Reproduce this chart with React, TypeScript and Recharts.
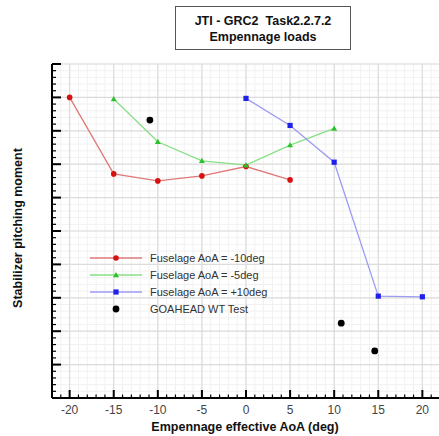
import React from "react";
import {
  CartesianGrid,
  ComposedChart,
  Line,
  ReferenceLine,
  Scatter,
  XAxis,
  YAxis,
} from "recharts";

// Empennage effective AoA (deg) vs stabilizer pitching moment (no scale given on the y axis)
const aoaMinus10 = [
  { x: -20, y: 9.0 },
  { x: -15, y: 6.71 },
  { x: -10, y: 6.5 },
  { x: -5, y: 6.65 },
  { x: 0, y: 6.93 },
  { x: 5, y: 6.53 },
];

const aoaMinus5 = [
  { x: -15, y: 8.95 },
  { x: -10, y: 7.67 },
  { x: -5, y: 7.1 },
  { x: 0, y: 6.97 },
  { x: 5, y: 7.57 },
  { x: 10, y: 8.07 },
];

const aoaPlus10 = [
  { x: 0, y: 8.97 },
  { x: 5, y: 8.16 },
  { x: 10, y: 7.06 },
  { x: 15, y: 3.05 },
  { x: 20, y: 3.03 },
];

const windTunnel = [
  { x: -10.9, y: 8.32 },
  { x: 10.8, y: 2.24 },
  { x: 14.6, y: 1.41 },
];

const xMajorTicks = [-20, -15, -10, -5, 0, 5, 10, 15, 20];
const yMajorTicks = [0, 1, 2, 3, 4, 5, 6, 7, 8, 9, 10];

const xAllTicks: number[] = [];
for (let i = -22; i <= 22; i++) xAllTicks.push(i);
const yAllTicks: number[] = [];
for (let i = 0; i <= 50; i++) yAllTicks.push(i / 5);

const FONT = '"Liberation Sans", Arial, Helvetica, sans-serif';

const legendItems = [
  { label: "Fuselage AoA = -10deg", line: "#e07a7a", marker: "circle", fill: "#d81010" },
  { label: "Fuselage AoA = -5deg", line: "#86e086", marker: "triangle", fill: "#2cc02c" },
  { label: "Fuselage AoA = +10deg", line: "#9c9cf2", marker: "square", fill: "#2020e8" },
  { label: "GOAHEAD WT Test", line: null, marker: "dot", fill: "#000000" },
];

function Marker({ kind, cx, cy, fill }: { kind: string; cx: number; cy: number; fill: string }) {
  if (kind === "triangle") {
    return <polygon points={`${cx},${cy - 3} ${cx - 3},${cy + 2.2} ${cx + 3},${cy + 2.2}`} fill={fill} />;
  }
  if (kind === "square") {
    return <rect x={cx - 2.6} y={cy - 2.6} width={5.2} height={5.2} fill={fill} />;
  }
  if (kind === "dot") {
    return <circle cx={cx} cy={cy} r={3.4} fill={fill} />;
  }
  return <circle cx={cx} cy={cy} r={2.8} fill={fill} />;
}

const makeDot = (kind: string, fill: string) => (props: any) => (
  <Marker key={`${kind}-${props.index}`} kind={kind} cx={props.cx} cy={props.cy} fill={fill} />
);

const XTick = (props: any) => {
  const { x, y, payload } = props;
  const v = payload.value;
  const major = v % 5 === 0;
  return (
    <g>
      <line x1={x} x2={x} y1={y} y2={y - (major ? 8 : 3.5)} stroke="#000" strokeWidth={major ? 2 : 1.2} />
      {major && v >= -20 && v <= 20 && (
        <text x={x} y={y + 16} textAnchor="middle" fontSize={12} fill="#444" fontFamily={FONT}>
          {v}
        </text>
      )}
    </g>
  );
};

const YTick = (props: any) => {
  const { x, y, payload } = props;
  const major = Math.abs(payload.value - Math.round(payload.value)) < 1e-6;
  return (
    <line x1={x} x2={x + (major ? 9 : 4)} y1={y} y2={y} stroke="#000" strokeWidth={major ? 2 : 1.2} />
  );
};

function LegendBox() {
  return (
    <svg width={220} height={76} style={{ position: "absolute", left: 88, top: 249 }}>
      {legendItems.map((item, i) => {
        const cy = 9 + i * 17;
        return (
          <g key={item.label}>
            {item.line && <line x1={2} x2={54} y1={cy} y2={cy} stroke={item.line} strokeWidth={1.3} />}
            <Marker kind={item.marker} cx={28} cy={cy} fill={item.fill} />
            <text x={62} y={cy + 4} fontSize={11} fill="#333" fontFamily={FONT}>
              {item.label}
            </text>
          </g>
        );
      })}
    </svg>
  );
}

export default function App() {
  return (
    <div
      style={{
        position: "absolute",
        left: 0,
        top: 0,
        width: 439,
        height: 436,
        overflow: "hidden",
        background: "#fff",
        fontFamily: FONT,
      }}
    >
      <div
        style={{
          position: "absolute",
          left: 175,
          top: 6,
          width: 176,
          height: 44,
          border: "1px solid #555",
          textAlign: "center",
          fontWeight: "bold",
          fontSize: 12.5,
          lineHeight: "16px",
          paddingTop: 6,
          boxSizing: "border-box",
          color: "#111",
          zIndex: 2,
        }}
      >
        JTI - GRC2&nbsp;&nbsp;Task2.2.7.2
        <br />
        Empennage loads
      </div>
      <ComposedChart width={441} height={436} margin={{ top: 64, right: 1, bottom: 0, left: 0 }}>
        <CartesianGrid stroke="#f1f1f1" strokeWidth={1} />
        {xMajorTicks.map((v) => (
          <ReferenceLine key={`gx${v}`} x={v} stroke="#dcdcdc" strokeWidth={1.2} />
        ))}
        {yMajorTicks.map((v) => (
          <ReferenceLine key={`gy${v}`} y={v} stroke="#dcdcdc" strokeWidth={1.2} />
        ))}
        <XAxis
          type="number"
          dataKey="x"
          domain={[-22, 22]}
          ticks={xAllTicks}
          interval={0}
          height={38}
          tickSize={0}
          tickMargin={0}
          tickLine={false}
          axisLine={{ stroke: "#000", strokeWidth: 2 }}
          tick={<XTick />}
          allowDataOverflow
          label={{
            content: (p: any) => (
              <text
                x={p.viewBox.x + p.viewBox.width / 2 - 1}
                y={p.viewBox.y + 33}
                textAnchor="middle"
                fontSize={12.5}
                fontWeight="bold"
                fill="#111"
                fontFamily={FONT}
              >
                Empennage effective AoA (deg)
              </text>
            ),
          }}
        />
        <YAxis
          type="number"
          dataKey="y"
          domain={[0, 10]}
          ticks={yAllTicks}
          interval={0}
          width={52}
          tickSize={0}
          tickMargin={0}
          tickLine={false}
          axisLine={{ stroke: "#000", strokeWidth: 2 }}
          tick={<YTick />}
          label={{
            content: (p: any) => {
              const cx = 22;
              const cy = p.viewBox.y + p.viewBox.height / 2 - 3;
              return (
                <text
                  x={cx}
                  y={cy}
                  transform={`rotate(-90 ${cx} ${cy})`}
                  textAnchor="middle"
                  fontSize={12.5}
                  fontWeight="bold"
                  fill="#111"
                  fontFamily={FONT}
                >
                  Stabilizer pitching moment
                </text>
              );
            },
          }}
        />
        <Line
          data={aoaMinus10}
          dataKey="y"
          stroke="#e07a7a"
          strokeWidth={1.3}
          dot={makeDot("circle", "#d81010")}
          isAnimationActive={false}
        />
        <Line
          data={aoaMinus5}
          dataKey="y"
          stroke="#86e086"
          strokeWidth={1.3}
          dot={makeDot("triangle", "#2cc02c")}
          isAnimationActive={false}
        />
        <Line
          data={aoaPlus10}
          dataKey="y"
          stroke="#9c9cf2"
          strokeWidth={1.3}
          dot={makeDot("square", "#2020e8")}
          isAnimationActive={false}
        />
        <Scatter
          data={windTunnel}
          dataKey="y"
          fill="#000"
          shape={(p: any) => <circle cx={p.cx} cy={p.cy} r={3.4} fill="#000" />}
          isAnimationActive={false}
        />
      </ComposedChart>
      <LegendBox />
    </div>
  );
}
